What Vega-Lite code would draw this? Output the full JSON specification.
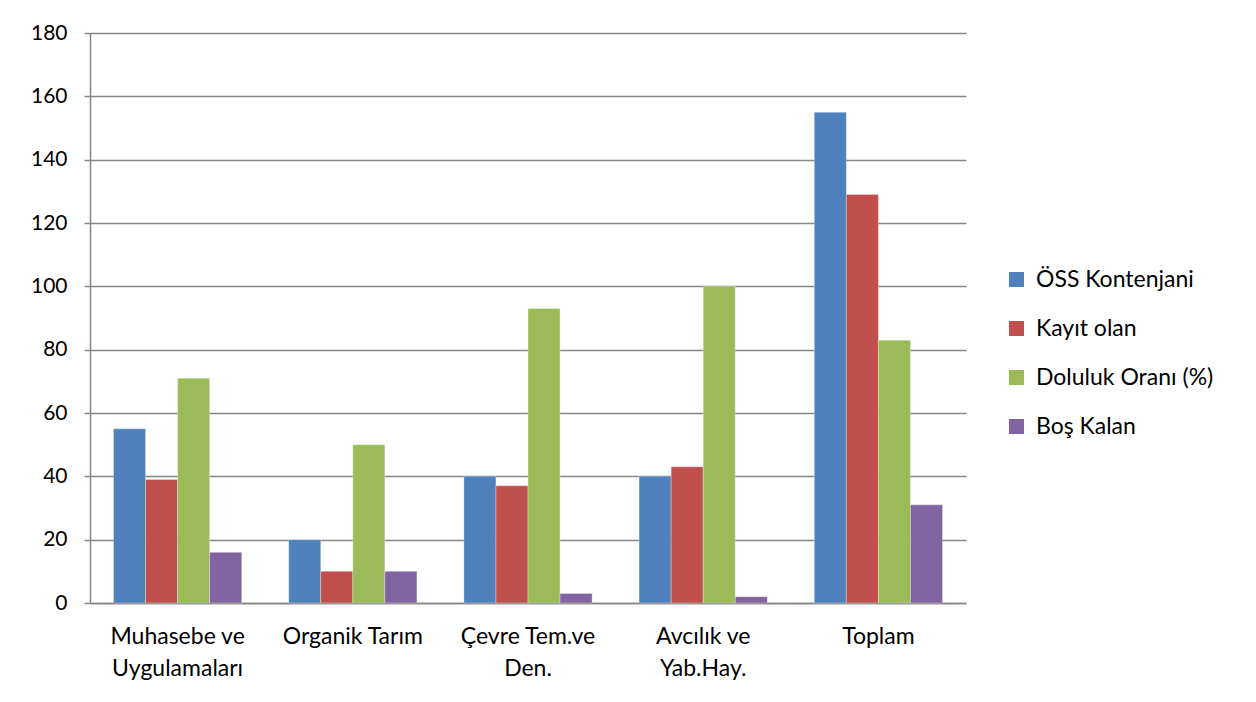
{
  "$schema": "https://vega.github.io/schema/vega-lite/v6.json",
  "width": 876,
  "height": 570,
  "autosize": {"type": "none"},
  "padding": {"left": 90, "top": 33, "right": 290, "bottom": 99},
  "background": "white",
  "data": {
    "values": [
      {"bolum": "Muhasebe ve Uygulamaları", "seri": "ÖSS Kontenjani", "deger": 55},
      {"bolum": "Muhasebe ve Uygulamaları", "seri": "Kayıt olan", "deger": 39},
      {"bolum": "Muhasebe ve Uygulamaları", "seri": "Doluluk Oranı (%)", "deger": 71},
      {"bolum": "Muhasebe ve Uygulamaları", "seri": "Boş Kalan", "deger": 16},
      {"bolum": "Organik Tarım", "seri": "ÖSS Kontenjani", "deger": 20},
      {"bolum": "Organik Tarım", "seri": "Kayıt olan", "deger": 10},
      {"bolum": "Organik Tarım", "seri": "Doluluk Oranı (%)", "deger": 50},
      {"bolum": "Organik Tarım", "seri": "Boş Kalan", "deger": 10},
      {"bolum": "Çevre Tem.ve Den.", "seri": "ÖSS Kontenjani", "deger": 40},
      {"bolum": "Çevre Tem.ve Den.", "seri": "Kayıt olan", "deger": 37},
      {"bolum": "Çevre Tem.ve Den.", "seri": "Doluluk Oranı (%)", "deger": 93},
      {"bolum": "Çevre Tem.ve Den.", "seri": "Boş Kalan", "deger": 3},
      {"bolum": "Avcılık ve Yab.Hay.", "seri": "ÖSS Kontenjani", "deger": 40},
      {"bolum": "Avcılık ve Yab.Hay.", "seri": "Kayıt olan", "deger": 43},
      {"bolum": "Avcılık ve Yab.Hay.", "seri": "Doluluk Oranı (%)", "deger": 100},
      {"bolum": "Avcılık ve Yab.Hay.", "seri": "Boş Kalan", "deger": 2},
      {"bolum": "Toplam", "seri": "ÖSS Kontenjani", "deger": 155},
      {"bolum": "Toplam", "seri": "Kayıt olan", "deger": 129},
      {"bolum": "Toplam", "seri": "Doluluk Oranı (%)", "deger": 83},
      {"bolum": "Toplam", "seri": "Boş Kalan", "deger": 31}
    ]
  },
  "mark": {"type": "bar", "stroke": "white", "strokeWidth": 0.5, "strokeOpacity": 0.6},
  "encoding": {
    "x": {
      "field": "bolum",
      "type": "nominal",
      "sort": null,
      "title": null,
      "scale": {"paddingInner": 0.268, "paddingOuter": 0.134},
      "axis": {
        "labelAngle": 0,
        "labelFont": "Lato",
        "labelFontSize": 23,
        "labelColor": "#000000",
        "labelPadding": 22,
        "labelLineHeight": 32,
        "labelLimit": 300,
        "labelExpr": "datum.label == 'Muhasebe ve Uygulamaları' ? ['Muhasebe ve', 'Uygulamaları'] : datum.label == 'Çevre Tem.ve Den.' ? ['Çevre Tem.ve', 'Den.'] : datum.label == 'Avcılık ve Yab.Hay.' ? ['Avcılık ve', 'Yab.Hay.'] : datum.label",
        "ticks": false,
        "domainColor": "#868686",
        "domainWidth": 1.5
      }
    },
    "xOffset": {
      "field": "seri",
      "type": "nominal",
      "sort": ["ÖSS Kontenjani", "Kayıt olan", "Doluluk Oranı (%)", "Boş Kalan"],
      "scale": {"paddingInner": 0, "paddingOuter": 0}
    },
    "y": {
      "field": "deger",
      "type": "quantitative",
      "title": null,
      "scale": {"domain": [0, 180], "nice": false},
      "axis": {
        "values": [0, 20, 40, 60, 80, 100, 120, 140, 160, 180],
        "labelFont": "Lato",
        "labelFontSize": 21,
        "labelColor": "#000000",
        "labelPadding": 17,
        "tickSize": 6,
        "tickColor": "#868686",
        "tickWidth": 1.5,
        "domainColor": "#868686",
        "domainWidth": 1.5,
        "gridColor": "#868686",
        "gridWidth": 1.5
      }
    },
    "color": {
      "field": "seri",
      "type": "nominal",
      "sort": ["ÖSS Kontenjani", "Kayıt olan", "Doluluk Oranı (%)", "Boş Kalan"],
      "scale": {
        "domain": ["ÖSS Kontenjani", "Kayıt olan", "Doluluk Oranı (%)", "Boş Kalan"],
        "range": ["#4F81BD", "#C0504D", "#9BBB59", "#8064A2"]
      },
      "legend": {
        "title": null,
        "orient": "none",
        "legendX": 915,
        "legendY": 235,
        "symbolType": "square",
        "symbolSize": 225,
        "symbolStrokeWidth": 0,
        "labelFont": "Lato",
        "labelFontSize": 23,
        "labelColor": "#000000",
        "labelOffset": 8,
        "labelLimit": 400,
        "rowPadding": 25
      }
    }
  },
  "config": {"view": {"stroke": null}}
}
